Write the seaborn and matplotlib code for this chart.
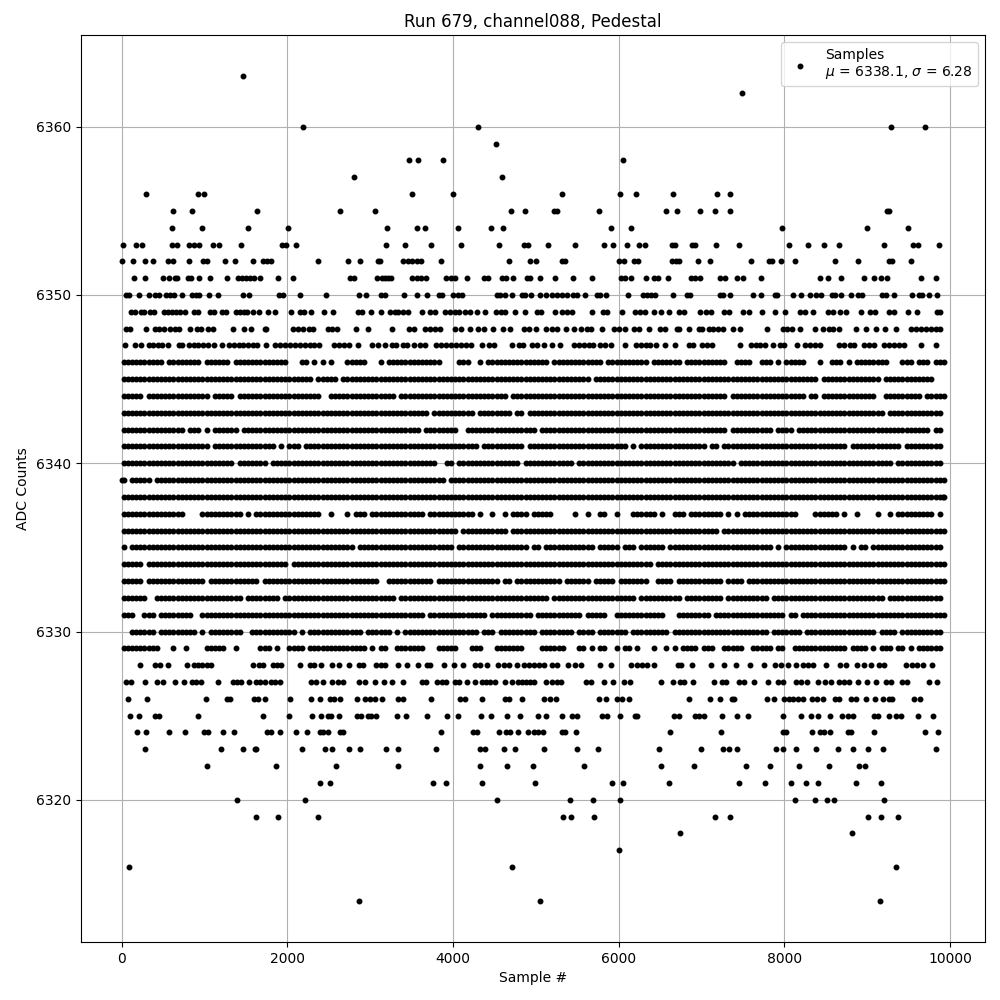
import matplotlib
matplotlib.use("Agg")
import matplotlib.pyplot as plt
import pandas as pd
import seaborn as sns

# Sample numbers, one list per ADC level (sparser rows)
s6363 = [1468]
s6362 = [7485]
s6360 = [2188, 4300, 9288, 9696]
s6359 = [4516]
s6358 = [3472, 3580, 3880, 6048]
s6357 = [2800, 4588]
s6356 = [292, 928, 1000, 3508, 4000, 5316, 6012, 6204, 6660, 7188, 7344]
s6355 = [616, 844, 1636, 2632, 3064, 4696, 4864, 5220, 5256, 5760, 6576, 6708, 6984, 7164, 7344, 9236, 9268]
s6354 = [604, 976, 1528, 2008, 3208, 3568, 3664, 4060, 4456, 4600, 5904, 6144, 7968, 9000, 9492]
s6353 = [16, 172, 245, 610, 670, 810, 870, 930, 1103, 1171, 1436, 1933, 1985, 2110, 3193, 3425, 3737, 4096, 4551,
         4858, 4910, 5150, 5473, 5820, 5928, 6096, 6240, 6323, 6641, 6681, 6882, 6922, 7170, 7447, 8060, 8288, 8481,
         8661, 9202, 9547, 9615, 9864]
s6352 = [8, 136, 280, 376, 560, 624, 808, 988, 1036, 1252, 1372, 1588, 1708, 1760, 1800, 2368, 2732, 2872, 3090,
         3120, 3400, 3460, 3508, 3560, 3608, 3856, 4672, 4924, 4996, 5312, 5352, 6000, 6068, 6184, 6228, 6640, 6692,
         6732, 6956, 7100, 7592, 7816, 7852, 7964, 8132, 8612, 8888, 9264, 9304, 9524]
s6351 = [152, 280, 496, 572, 640, 672, 796, 832, 940, 1072, 1276, 1400, 1448, 1496, 1544, 1592, 1672, 1888, 2068,
         2752, 2808, 3088, 3148, 3180, 3220, 3248, 3508, 3560, 3608, 3672, 3916, 3980, 4028, 4168, 4380, 4420, 4588,
         4640, 4720, 4888, 4928, 5044, 5236, 5452, 5680, 6028, 6080, 6144, 6328, 6420, 6472, 6592, 6872, 6924, 6980,
         7224, 7284, 7424, 7496, 7712, 8432, 8528, 8684, 8964, 9080, 9164, 9236, 9644, 9824]
s6350 = [56, 88, 208, 328, 400, 456, 536, 588, 628, 724, 844, 900, 940, 1060, 1168, 1468, 1540, 1896, 1948, 2152,
         2464, 2860, 2944, 3128, 3180, 3412, 3568, 3688, 3832, 3868, 4000, 4060, 4108, 4528, 4568, 4628, 4708, 4828,
         4872, 4940, 5044, 5128, 5200, 5260, 5320, 5372, 5452, 5500, 5588, 5740, 5780, 5844, 6112, 6292, 6340, 6388,
         6440, 6652, 6824, 6864, 7224, 7264, 7344, 7616, 7712, 7884, 7916, 8108, 8204, 8312, 8384, 8444, 8576, 8616,
         8684, 8804, 8892, 8936, 9184, 9224, 9324, 9536, 9624, 9664, 9740, 9836]
s6349 = [116, 156, 236, 276, 340, 388, 508, 556, 604, 652, 700, 768, 876, 916, 1068, 1116, 1208, 1256, 1380, 1428,
         1476, 1516, 1588, 1656, 1768, 1848, 2048, 2148, 2200, 2288, 2448, 2548, 2848, 2896, 3008, 3136, 3240, 3300,
         3340, 3392, 3460, 3620, 3720, 3788, 3900, 3960, 4020, 4068, 4140, 4200, 4288, 4392, 4520, 4580, 4628, 4752,
         4868, 5008, 5068, 5228, 5320, 5380, 5440, 5680, 5808, 5860, 6040, 6192, 6260, 6320, 6432, 6512, 6604, 6732,
         6792, 6980, 7052, 7116, 7276, 7336, 7504, 7576, 7724, 7892, 8012, 8192, 8252, 8348, 8532, 8592, 8672, 8744,
         8924, 9032, 9092, 9264, 9324, 9488, 9596, 9836, 9884]
s6348 = [56, 96, 296, 408, 456, 508, 580, 648, 696, 820, 908, 956, 1048, 1108, 1348, 1476, 1556, 1728, 1748, 2068,
         2128, 2188, 2256, 2316, 2488, 2540, 2596, 2828, 2968, 3260, 3472, 3528, 3660, 3720, 3780, 3840, 4020, 4100,
         4200, 4300, 4372, 4488, 4600, 4684, 4860, 4920, 5000, 5128, 5200, 5260, 5360, 5464, 5540, 5620, 5668, 5800,
         5940, 6000, 6080, 6180, 6240, 6360, 6500, 6560, 6700, 6724, 6852, 6964, 7004, 7084, 7144, 7204, 7264, 7384,
         7464, 7784, 7984, 8032, 8096, 8184, 8372, 8468, 8540, 8592, 8664, 8864, 8984, 9104, 9212, 9344, 9524, 9584,
         9644, 9704, 9764, 9824, 9884]
s6347 = [40, 156, 228, 328, 380, 436, 488, 556, 688, 728, 808, 868, 928, 988, 1040, 1120, 1216, 1300, 1356, 1416,
         1468, 1528, 1588, 1636, 1748, 1856, 1908, 1968, 2028, 2088, 2148, 2208, 2268, 2328, 2388, 2560, 2628, 2688,
         2748, 2848, 3028, 3096, 3180, 3260, 3316, 3400, 3448, 3528, 3600, 3660, 3800, 3860, 3920, 3980, 4040, 4100,
         4160, 4220, 4352, 4440, 4500, 4712, 4792, 4848, 4952, 5008, 5100, 5200, 5288, 5460, 5520, 5580, 5640, 5688,
         5772, 5840, 5908, 6080, 6208, 6272, 6328, 6380, 6452, 6556, 6680, 6844, 6892, 7004, 7064, 7124, 7460, 7592,
         7652, 7704, 7764, 7864, 7944, 7996, 8148, 8244, 8304, 8364, 8428, 8664, 8724, 8796, 8844, 8964, 9024, 9084,
         9204, 9264, 9324, 9384, 9444, 9644, 9824]
s6328 = [220, 400, 460, 556, 784, 868, 916, 968, 1028, 1076, 1588, 1660, 1708, 1828, 1880, 1928, 2152, 2276, 2328,
         2404, 2536, 2620, 2740, 2860, 2916, 3068, 3128, 3180, 3340, 3448, 3580, 3688, 3728, 3892, 4012, 4120, 4260,
         4320, 4412, 4540, 4620, 4680, 4768, 4852, 4920, 4980, 5040, 5100, 5192, 5260, 5392, 5468, 5548, 5776, 5908,
         6148, 6220, 6280, 6340, 6420, 6720, 6756, 6884, 7112, 7268, 7412, 7588, 7756, 7884, 7956, 8044, 8144, 8224,
         8284, 8348, 8500, 8676, 8744, 8876, 8964, 9044, 9144, 9204, 9464, 9536, 9604, 9676, 9784]
s6327 = [48, 108, 280, 428, 496, 640, 748, 848, 900, 956, 1168, 1340, 1396, 1436, 1540, 1620, 1676, 1728, 1800, 1856,
         1916, 2288, 2348, 2428, 2540, 2608, 2668, 2868, 2936, 3056, 3168, 3260, 3400, 3620, 3680, 3812, 3868, 3920,
         4020, 4072, 4168, 4260, 4352, 4400, 4448, 4512, 4628, 4708, 4780, 4828, 4880, 4928, 4980, 5120, 5192, 5260,
         5308, 5600, 5668, 5824, 5932, 6068, 6140, 6512, 6660, 6744, 6784, 6896, 7152, 7244, 7292, 7452, 7516, 7636,
         7796, 7924, 7984, 8144, 8204, 8276, 8404, 8484, 8564, 8664, 8724, 8784, 8888, 8996, 9100, 9228, 9292, 9424,
         9476, 9740, 9836]
s6326 = [76, 308, 1016, 1268, 1308, 1596, 1648, 1732, 2028, 2284, 2392, 2516, 2568, 2640, 2836, 2940, 2996, 3064,
         3148, 3340, 3400, 3736, 4088, 4140, 4348, 4628, 4672, 4828, 5104, 5168, 5240, 5764, 5848, 5980, 6040, 6128,
         6848, 7100, 7220, 7364, 7392, 7792, 7872, 7992, 8052, 8104, 8164, 8228, 8328, 8392, 8468, 8616, 8664, 8804,
         8864, 8988, 9092, 9188, 9264, 9304, 9564, 9632]
s6325 = [100, 208, 408, 456, 916, 1708, 2020, 2296, 2408, 2488, 2528, 2620, 2836, 2888, 2968, 3008, 3076, 3320, 3436,
         3688, 3928, 4060, 4340, 4460, 4648, 4804, 5020, 5128, 5320, 5440, 5500, 5800, 5860, 6016, 6192, 6220, 6672,
         6724, 6924, 6972, 7032, 7244, 7432, 7556, 7980, 8204, 8324, 8404, 8552, 8696, 8772, 8824, 9076, 9124, 9268,
         9344, 9412, 9608, 9788]
s6324 = [188, 296, 568, 760, 1000, 1040, 1220, 1360, 1756, 1808, 1912, 2104, 2236, 2392, 2436, 2488, 2636, 2668,
         3856, 4240, 4288, 4552, 4640, 4688, 4780, 4904, 4972, 5028, 5092, 5312, 5348, 5488, 6620, 7232, 7984, 8016,
         8336, 8424, 8472, 8552, 8764, 8804, 9080, 9692, 9848]
s6323 = [280, 1204, 1468, 1604, 1628, 2176, 2452, 2536, 2740, 2872, 3196, 3332, 3796, 4320, 4392, 4612, 4744, 5104,
         5500, 5752, 6484, 6992, 7256, 7328, 7432, 7904, 7988, 8144, 8384, 8648, 8828, 9008, 9188, 9824]
s6322 = [1036, 1864, 2584, 3332, 4324, 4648, 4960, 5584, 6508, 6908, 7532, 7832, 8180, 8540, 8900, 8972]
s6321 = [2392, 2512, 3760, 3916, 4348, 4984, 5920, 6052, 6608, 7448, 7760, 8084, 8264, 8408, 8864, 9164]
s6320 = [1396, 2212, 4528, 5416, 5692, 6016, 8132, 8372, 8516, 8600, 9200]
s6319 = [1624, 1888, 2368, 5332, 5428, 5704, 7160, 7340, 9008, 9164, 9368]
s6318 = [6738, 8820]
s6317 = [6005]
s6316 = [84, 4717, 9350]
s6314 = [2864, 5054, 9157]

# Dense rows: ten groups of 1000 samples, one character per 50 samples, '#' = a sample seen there
r6346 = "##########.########. ######.############# ...##.#.#.#...#####. ..#.#############... .###..#.############ ###.############.### #######.#######.#### ######..####..###.#. #####...#..###.#.### #####...###.###.###."
r6345 = "#################### #################### ######.#####.####### #################### #################### #############.###### #################### #################### ########.########### ###.############...."
r6344 = "#####.############## #.#####.############ ########..########## ######.############# #############.###### #################### #################### ######.############# #####.##.########### ##..#########.#####."
r6343 = "#################### #################### #################### ##############.##### #####.########.##.## #################### #################### #################### #################### ####.#############.."
r6342 = "###############.###. #.######.########### #################### ############.####### #..################# .################### #################### ######.##########.## ##.################# ###############.##.."
r6341 = "#################### #.###############.#. ###.################ #################### ######.##########.## #################### ##.#.############### #.##.############### ###############.#### ########.#########.."
r6340 = "#################### #######.#######.#### #################### ################..## .###############.### #########.########## #################### ########.########### #################### ######.###########.."
r6339 = "#.#####.############ #################### #################### ##################.# #################### #################### #################### #################### #################### ###################."
r6338 = "#################### #################### #################### #################### #################### #################### #################### #################### #################### ###################."
r6337 = "###############....# #########.#.######## ########..#...#.###. #############.###### #####.#..#..#.####.# ####.....#..#..##..# ...######.#..###.### #####.#.#.########## ###....######.#..#.. ..#..#.#########.#.."
r6336 = "#################### #################### #################### #################### #.###########.###### #################### #################### ####.############### #################### ###################."
r6335 = "#.################## #################### ################.### #################### .#################.# #.############.##### .###.######.######## #################.#. ###############.#.## .#################.."
r6334 = "#####.############## #################### .################### #################### #################### #################### ########.########### #################### #################### ###################."
r6333 = "#####.############## .############.###### #################### ##..###########.#### ###########.##.##### ######.######.#####. #######..####.###### #####.####.######### #################### ###################."
r6332 = "######..############ #########.########.# #################### ######.############# #################### ###.################ ####.##########.#### #####.##########.### #################### ####.#############.."
r6331 = "###..###.########..# #################### #################### #############.###### ########.##########. ###########.#####..# ###########...###### ##.################# .##.################ ###################."
r6330 = "..######.#########.# .########..######### ##.#.#############.# #####.#.############ ######.###.######### .########.####.##### ##.#########.####### ################.### ####.############### ##.####.##########.."
r6329 = "#########...#..#.... #####..#.....###.#.. ####.##############. #.##..#######...#### #...###...#######... .######...##.#.##..# .##.#...#..#.#.####. ###..#####..#####.## ..#############.#### .#.###.##.#.######.."

sparse_rows = {6363: s6363, 6362: s6362, 6360: s6360, 6359: s6359, 6358: s6358, 6357: s6357, 6356: s6356,
               6355: s6355, 6354: s6354, 6353: s6353, 6352: s6352, 6351: s6351, 6350: s6350, 6349: s6349,
               6348: s6348, 6347: s6347, 6328: s6328, 6327: s6327, 6326: s6326, 6325: s6325, 6324: s6324,
               6323: s6323, 6322: s6322, 6321: s6321, 6320: s6320, 6319: s6319, 6318: s6318, 6317: s6317,
               6316: s6316, 6314: s6314}
dense_rows = {6346: r6346, 6345: r6345, 6344: r6344, 6343: r6343, 6342: r6342, 6341: r6341, 6340: r6340,
              6339: r6339, 6338: r6338, 6337: r6337, 6336: r6336, 6335: r6335, 6334: r6334, 6333: r6333,
              6332: r6332, 6331: r6331, 6330: r6330, 6329: r6329}

sample_no, adc = [], []
for level, samples in sparse_rows.items():
    sample_no += samples
    adc += [level] * len(samples)
for level, row in dense_rows.items():
    for g, group in enumerate(row.split()):
        for i, ch in enumerate(group[:20]):
            if ch == "#":
                sample_no.append(g * 1000 + i * 50 + 25)
                adc.append(level)
# first and last positions of the record
sample_no += [0, 9915]
adc += [6339, 6338]

df = pd.DataFrame({"Sample": sample_no, "ADC": adc})

fig, ax = plt.subplots(figsize=(10, 10), dpi=100)
sns.scatterplot(data=df, x="Sample", y="ADC", marker=".", s=42, color="black", edgecolor="black",
                linewidth=1, zorder=2, ax=ax,
                label="Samples\n$\\mu$ = 6338.1, $\\sigma$ = 6.28")
ax.grid(True)
ax.set_title("Run 679, channel088, Pedestal")
ax.set_xlabel("Sample #")
ax.set_ylabel("ADC Counts")
ax.legend(loc="upper right")
fig.subplots_adjust(left=0.0805, right=0.985, top=0.965, bottom=0.058)
fig.savefig("out.png", dpi=100)
